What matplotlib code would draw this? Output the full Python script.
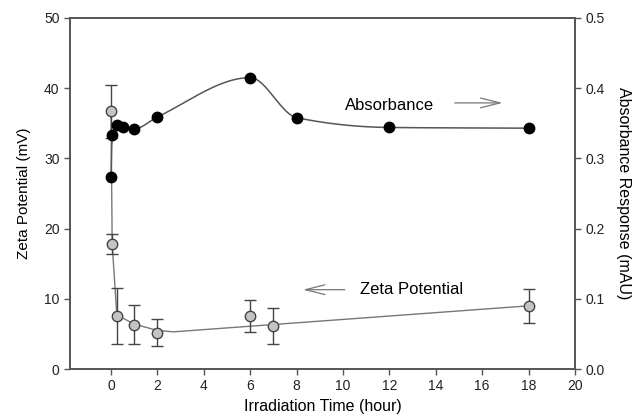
import numpy as np
import matplotlib
matplotlib.use("Agg")
import matplotlib.pyplot as plt

plt.rcParams['font.family'] = ['Liberation Sans', 'DejaVu Sans']

# zeta potential (left axis)
zeta_time = [0, 0.05, 0.25, 1, 2, 6, 7, 18]
zeta_mv = [36.7, 17.8, 7.6, 6.3, 5.2, 7.6, 6.1, 9.0]
zeta_err = [3.8, 1.4, 4.0, 2.8, 1.9, 2.3, 2.6, 2.4]

# fitted zeta line
zeta_fit_time = [0, 0.05, 0.25, 1, 2, 2.7, 18]
zeta_fit_mv = [36.7, 17.8, 7.7, 6.4, 5.5, 5.3, 9.0]

# absorbance (right axis)
abs_time = [0, 0.05, 0.25, 0.5, 1, 2, 6, 8, 12, 18]
abs_mau = [0.274, 0.333, 0.347, 0.344, 0.342, 0.359, 0.415, 0.358, 0.344, 0.343]


def smooth_curve(x, y, n=600):
    # monotone cubic (pchip style) so the curve does not overshoot
    x = np.asarray(x, float)
    y = np.asarray(y, float)
    h = np.diff(x)
    d = np.diff(y) / h
    k = len(x)
    m = np.zeros(k)
    for i in range(1, k - 1):
        if d[i - 1] * d[i] > 0:
            w1 = 2 * h[i] + h[i - 1]
            w2 = h[i] + 2 * h[i - 1]
            m[i] = (w1 + w2) / (w1 / d[i - 1] + w2 / d[i])
    m[0] = d[0]
    m[-1] = d[-1]
    xs = np.linspace(x[0], x[-1], n)
    idx = np.clip(np.searchsorted(x, xs) - 1, 0, k - 2)
    hh = h[idx]
    t = (xs - x[idx]) / hh
    h00 = 2 * t**3 - 3 * t**2 + 1
    h10 = t**3 - 2 * t**2 + t
    h01 = -2 * t**3 + 3 * t**2
    h11 = t**3 - t**2
    ys = h00 * y[idx] + h10 * hh * m[idx] + h01 * y[idx + 1] + h11 * hh * m[idx + 1]
    return xs, ys


fig = plt.figure(figsize=(6.36, 4.17), dpi=100)
ax = fig.add_axes([0.110, 0.115, 0.794, 0.842])
ax2 = ax.twinx()

spine_col = '#555555'
for a in (ax, ax2):
    for s in a.spines.values():
        s.set_color(spine_col)
        s.set_linewidth(1.2)
    a.tick_params(direction='out', length=4, width=1, color=spine_col,
                  labelsize=10, labelcolor='#222222')

ax.plot(zeta_fit_time, zeta_fit_mv, color='#777777', lw=1, zorder=2)
ax.errorbar(zeta_time, zeta_mv, yerr=zeta_err, fmt='o', ms=7.5,
            mfc='#c4c4c4', mec='#444444', mew=1, ecolor='#444444',
            elinewidth=1, capsize=4, capthick=1, zorder=3)

sx, sy = smooth_curve(abs_time, abs_mau)
ax2.plot(sx, sy, color='#555555', lw=1.1, zorder=2)
ax2.plot(abs_time, abs_mau, 'o', ms=7.5, color='black', zorder=3)

ax.set_xlim(-1.77, 20)
ax.set_ylim(0, 50)
ax2.set_ylim(0, 0.5)
ax.set_xticks(range(0, 21, 2))
ax.set_yticks(range(0, 51, 10))
ax2.set_yticks(np.arange(0, 0.51, 0.1))
ax2.set_yticklabels(['0.0', '0.1', '0.2', '0.3', '0.4', '0.5'])

ax.set_xlabel('Irradiation Time (hour)', fontsize=11.5, labelpad=4)
ax.set_ylabel('Zeta Potential (mV)', fontsize=11, labelpad=9)
ax2.set_ylabel('Absorbance Response (mAU)', fontsize=11.5, rotation=270,
               labelpad=19)

ax.text(12.0, 37.6, 'Absorbance', fontsize=12, ha='center', va='center')
ax.annotate('', xy=(17.0, 37.9), xytext=(14.7, 37.9),
            arrowprops=dict(arrowstyle='->,head_length=1.4,head_width=0.35',
                            color='#777777', lw=0.9))
ax.text(12.95, 11.3, 'Zeta Potential', fontsize=12, ha='center', va='center')
ax.annotate('', xy=(8.15, 11.3), xytext=(10.2, 11.3),
            arrowprops=dict(arrowstyle='->,head_length=1.4,head_width=0.35',
                            color='#777777', lw=0.9))

fig.savefig('out.png', dpi=100)
